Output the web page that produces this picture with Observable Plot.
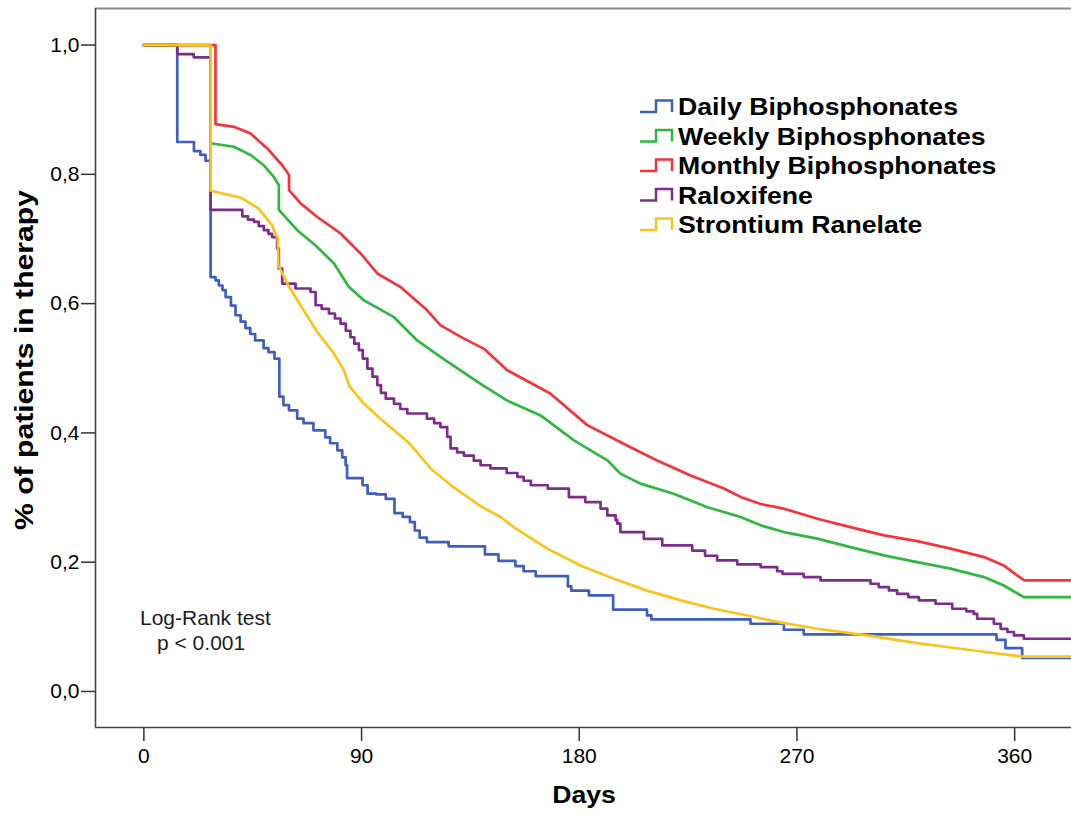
<!DOCTYPE html>
<html><head><meta charset="utf-8">
<script src="https://cdn.jsdelivr.net/npm/d3@7"></script>
<script src="https://cdn.jsdelivr.net/npm/@observablehq/plot@0.6"></script>
<style>
html,body{margin:0;padding:0;background:#fff;}
#wrap{position:relative;width:1071px;height:814px;overflow:hidden;}
</style></head>
<body><div id="wrap"></div>
<script>
const seriesNames = ["Daily Biphosphonates","Weekly Biphosphonates","Monthly Biphosphonates","Raloxifene","Strontium Ranelate"];
const seriesColors = ["#3f5fbf","#2eb83f","#f2343c","#7d2e8c","#fcc31c"];
const xTicks = [0,90,180,270,360];
const yTicks = [0,0.2,0.4,0.6,0.8,1.0];
const xDomain = [-20,383.5];
const yDomain = [-0.0557,1.0565];
const xLabel = "Days";
const yLabel = "% of patients in therapy";
const noteLines = ["Log-Rank test","p < 0.001"];

const dailyDays = [0,13.8,20.7,23.4,25.5,27.6,29.6,31,32.5,33.8,36,37.9,40,42,44,46,49.5,51.5,54,56,57.7,60,63.4,66,70.1,75,77,80,82,83.4,84,90.4,92.5,96,100,103.6,107,110,112,114,117,126,141,146.6,153.6,157,162,175.3,176.7,184,194,208,209.8,250.8,264.6,272.8,352.5,356.2,363.1,383.5];
const dailySurv = [1,0.850,0.836,0.830,0.821,0.641,0.636,0.628,0.621,0.610,0.597,0.582,0.572,0.562,0.553,0.543,0.531,0.525,0.515,0.456,0.443,0.435,0.422,0.415,0.404,0.393,0.384,0.373,0.362,0.350,0.330,0.319,0.306,0.305,0.298,0.276,0.270,0.262,0.249,0.238,0.231,0.2245,0.212,0.202,0.194,0.186,0.1785,0.1625,0.156,0.1486,0.1265,0.1176,0.1115,0.1048,0.0955,0.0882,0.080,0.067,0.052,0.052];

const weeklyDays = [0,27.6,27.6,37.2,44.1,49.6,53.7,55.8,55.8,63.4,71,78.6,84.7,91,103.4,113,122.6,139.2,150.2,164,177.8,191.6,197,205.3,219,233,246.7,255,264.6,278.4,292.1,306,319.7,333.5,347.3,355.5,361,363.8,383.5];
const weeklySurv = [1,1,0.848,0.8426,0.830,0.814,0.796,0.783,0.745,0.7136,0.690,0.662,0.626,0.605,0.579,0.543,0.5175,0.476,0.450,0.427,0.3885,0.3576,0.337,0.3215,0.306,0.285,0.270,0.257,0.2466,0.2364,0.2234,0.2105,0.2002,0.190,0.177,0.164,0.152,0.146,0.146];

const monthlyDays = [0,29.6,29.6,37.2,44.1,51,57.2,60,60,64.8,71.7,81.3,89.6,96.5,106,117,122.6,131,140.6,150.2,168,183.3,194.3,205.3,212,226,239.8,246.7,255,264.6,278.4,292.1,306,319.7,333.5,347.3,355.5,361,364,383.5];
const monthlySurv = [1,1,0.8777,0.8735,0.863,0.840,0.814,0.7988,0.7755,0.755,0.734,0.7085,0.6776,0.6466,0.626,0.590,0.5666,0.5485,0.530,0.497,0.461,0.412,0.391,0.370,0.3576,0.334,0.314,0.301,0.290,0.2828,0.2673,0.2543,0.2415,0.2327,0.2209,0.2079,0.195,0.1796,0.1718,0.1718];

const raloxDays = [0,13.8,20.6,27.6,40.7,43,45.5,47.5,49.6,51.5,53,55.1,55.8,57.2,62.7,68.9,71,73.5,76.5,79,81.3,83.5,85.4,87,88.9,90.5,92.4,94.5,96.5,98,100,103.4,106,108.9,117,120,122.6,125.4,126.8,129.5,132.3,136.4,139.2,143.3,150,154.4,157,160,167,175.7,182.5,188.8,191.6,195,195.7,197,206.7,214.3,226.7,232,237,245.3,255,261.8,264,272.8,279.7,300.4,303.8,308,311.4,316,320.4,327.3,334.2,340,343.1,344.5,351.4,354.2,357,359.7,363.8,383.5];
const raloxSurv = [1,0.986,0.981,0.745,0.735,0.730,0.7265,0.720,0.7136,0.708,0.703,0.685,0.654,0.631,0.6234,0.618,0.5975,0.592,0.5847,0.577,0.569,0.558,0.548,0.538,0.528,0.515,0.4995,0.487,0.474,0.462,0.453,0.445,0.437,0.430,0.422,0.415,0.409,0.394,0.376,0.370,0.365,0.357,0.350,0.345,0.338,0.332,0.326,0.319,0.3137,0.3008,0.293,0.283,0.2724,0.265,0.2596,0.2466,0.236,0.226,0.218,0.210,0.2028,0.1966,0.1924,0.186,0.182,0.177,0.172,0.1667,0.1615,0.1563,0.151,0.146,0.141,0.1357,0.128,0.124,0.120,0.1125,0.1048,0.097,0.092,0.0867,0.0816,0.0816];

const stronDays = [0,27.6,27.6,40,47.5,53,55.4,55.6,60,64.8,71.7,78.5,82.7,85,91,98.5,110,118.5,128,139,147.5,153,166.8,180.5,194.3,208,222,235.7,249.5,263,278.4,299,319.7,340,363,383.5];
const stronSurv = [1,1,0.7745,0.764,0.747,0.721,0.700,0.659,0.626,0.597,0.556,0.523,0.497,0.472,0.445,0.4195,0.383,0.345,0.316,0.287,0.270,0.254,0.221,0.195,0.1745,0.156,0.141,0.128,0.1176,0.107,0.097,0.0867,0.0748,0.065,0.054,0.054];

const mk = (days, surv) => days.map((d, i) => ({day: d, surv: surv[i]}));
const seriesData = [
  {data: mk(dailyDays, dailySurv), curve: "step-after"},
  {data: mk(weeklyDays, weeklySurv), curve: "linear"},
  {data: mk(monthlyDays, monthlySurv), curve: "linear"},
  {data: mk(raloxDays, raloxSurv), curve: "step-after"},
  {data: mk(stronDays, stronSurv), curve: "linear"}
];

const FONT = "'Liberation Sans', Arial, Helvetica, sans-serif";

const chart = Plot.plot({
  width: 1071, height: 814,
  marginLeft: 95, marginRight: 0, marginTop: 8, marginBottom: 87,
  style: {fontFamily: FONT, background: "#fff", color: "#000"},
  x: {domain: xDomain},
  y: {domain: yDomain},
  marks: [
    Plot.ruleY([yDomain[1]], {stroke: "#8a8a8a", strokeWidth: 2}),
    Plot.ruleY([yDomain[0]], {stroke: "#444", strokeWidth: 1.6}),
    Plot.ruleX([xDomain[0]], {stroke: "#444", strokeWidth: 1.6}),
    Plot.axisX({ticks: xTicks, tickSize: 14, tickPadding: 7, fontSize: 21, label: null, stroke: "#333", strokeWidth: 1.5, fill: "#000"}),
    Plot.axisY({ticks: yTicks, tickSize: 14, tickPadding: 2, fontSize: 21, label: null, stroke: "#333", strokeWidth: 1.5, fill: "#000",
      tickFormat: d => d.toFixed(1).replace(".", ",")}),
    ...seriesData.map((s, i) => Plot.line(s.data, {x: "day", y: "surv", stroke: seriesColors[i], strokeWidth: 2.7, curve: s.curve}))
  ]
});

document.getElementById("wrap").appendChild(chart);

// annotations
const svg = d3.select(chart);
const ann = svg.append("g").attr("font-family", FONT).attr("text-anchor", "start");

// legend
const leg = ann.append("g");
seriesNames.forEach((name, i) => {
  const base = 115 + i * 29.5;
  leg.append("path")
    .attr("d", `M640,${base - 3} H656 V${base - 14.5} H672 V${base - 3}`)
    .attr("fill", "none").attr("stroke", seriesColors[i]).attr("stroke-width", 2.5);
  leg.append("text")
    .attr("transform", `translate(678,${base}) scale(1.16,1)`)
    .attr("text-anchor", "start")
    .attr("font-size", 23).attr("font-weight", "bold").attr("fill", "#000")
    .text(name);
});

// axis titles
ann.append("text")
  .attr("transform", "translate(584,803) scale(1.16,1)")
  .attr("text-anchor", "middle").attr("font-size", 23).attr("font-weight", "bold").attr("fill", "#000")
  .text(xLabel);
ann.append("text")
  .attr("transform", "translate(33,360) rotate(-90) scale(1.16,1)")
  .attr("text-anchor", "middle").attr("font-size", 26).attr("font-weight", "bold").attr("fill", "#000")
  .text(yLabel);

// note
ann.append("text").attr("x", 140).attr("y", 625).attr("text-anchor", "start").attr("font-size", 21).attr("fill", "#1c1c24").text(noteLines[0]);
ann.append("text").attr("x", 157).attr("y", 650).attr("text-anchor", "start").attr("font-size", 21).attr("fill", "#1c1c24").text(noteLines[1]);
</script>
</body></html>
